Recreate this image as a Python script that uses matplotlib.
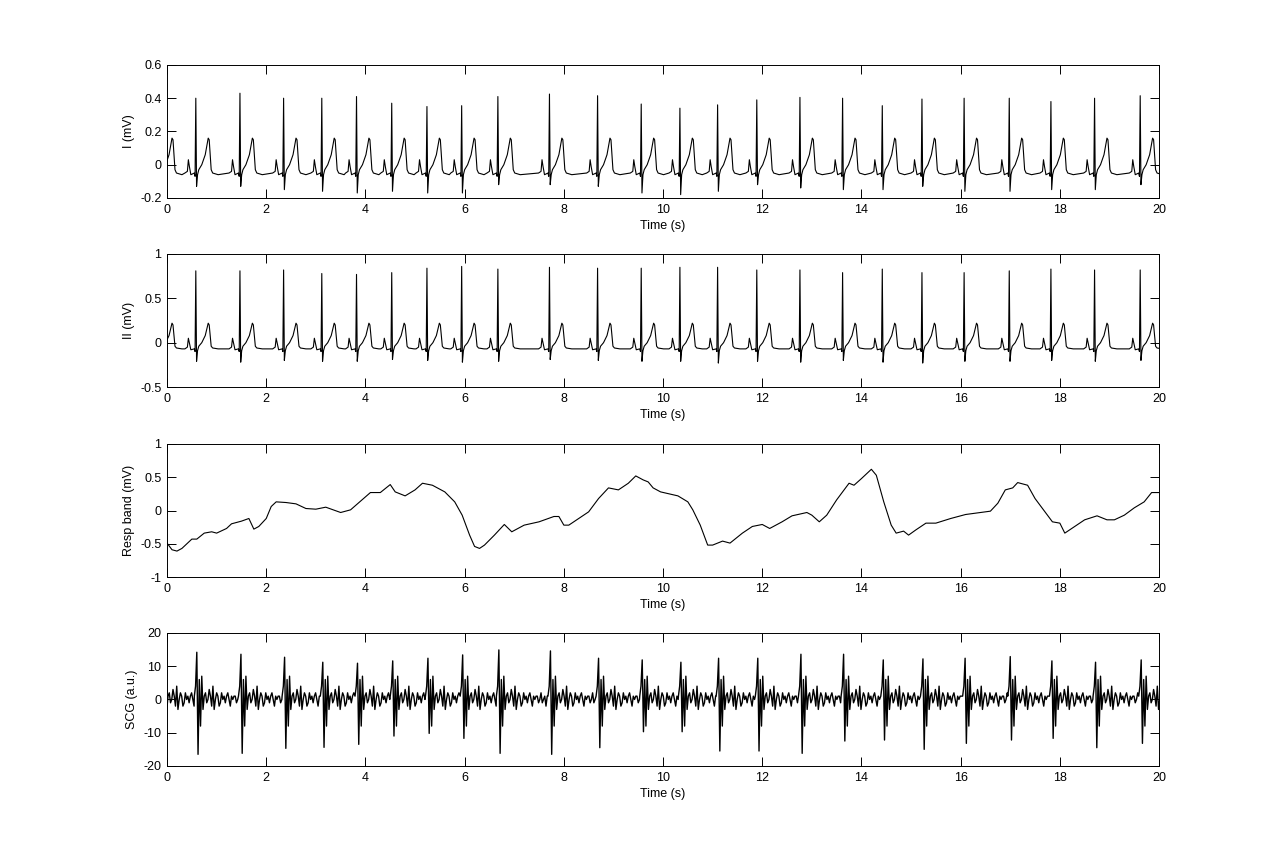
import numpy as np
import matplotlib
matplotlib.use("Agg")
import matplotlib.pyplot as plt

# R-peak times (s); first one is the beat just before t=0
beat_times = [-0.15, 0.58, 1.47, 2.35, 3.12, 3.82, 4.53, 5.24, 5.94, 6.67, 7.71, 8.68,
              9.56, 10.34, 11.10, 11.89, 12.76, 13.62, 14.42, 15.22, 16.07, 16.98,
              17.82, 18.70, 19.62]

# lead I peak values (mV)
r_lead1 = [0.40, 0.40, 0.43, 0.40, 0.40, 0.41, 0.37, 0.35, 0.355, 0.41, 0.425, 0.415,
           0.365, 0.34, 0.36, 0.39, 0.405, 0.40, 0.355, 0.395, 0.40, 0.40, 0.38, 0.40, 0.415]
s_lead1 = [-0.12, -0.13, -0.13, -0.15, -0.16, -0.17, -0.16, -0.17, -0.17, -0.12, -0.12, -0.13,
           -0.17, -0.18, -0.16, -0.12, -0.14, -0.15, -0.15, -0.13, -0.16, -0.16, -0.15, -0.15, -0.12]

# lead II peak values (mV)
r_lead2 = [0.80, 0.81, 0.81, 0.82, 0.78, 0.77, 0.79, 0.84, 0.86, 0.83, 0.85, 0.84,
           0.84, 0.85, 0.85, 0.82, 0.82, 0.79, 0.83, 0.79, 0.79, 0.81, 0.83, 0.82, 0.82]
s_lead2 = [-0.20, -0.21, -0.22, -0.20, -0.21, -0.21, -0.19, -0.20, -0.22, -0.21, -0.19, -0.20,
           -0.21, -0.21, -0.23, -0.21, -0.22, -0.20, -0.22, -0.23, -0.21, -0.21, -0.20, -0.21, -0.20]

# one heartbeat of each lead: offsets from R (s) and values (mV); None = R / S slot
ecg_offsets = [-0.22, -0.17, -0.15, -0.13, -0.10, -0.03, -0.015, 0.0, 0.015, 0.035,
               0.06, 0.12, 0.19, 0.25, 0.27, 0.31, 0.34, 0.45]
lead1_shape = [-0.05, -0.04, 0.03, -0.01, -0.06, -0.05, -0.07, None, None, -0.06,
               -0.03, 0.0, 0.06, 0.16, 0.15, -0.03, -0.05, -0.06]
lead2_shape = [-0.07, -0.05, 0.05, 0.0, -0.08, -0.07, -0.10, None, None, -0.09,
               -0.04, 0.0, 0.08, 0.22, 0.20, -0.04, -0.06, -0.07]

# respiration band, read point by point
resp_t = [0.0, 0.1, 0.2, 0.3, 0.5, 0.6, 0.75, 0.9, 1.0, 1.2, 1.3, 1.5, 1.65, 1.75, 1.85,
          2.0, 2.1, 2.2, 2.4, 2.6, 2.8, 3.0, 3.2, 3.5, 3.7, 3.9, 4.1, 4.3, 4.5, 4.6,
          4.8, 5.0, 5.15, 5.35, 5.6, 5.8, 5.95, 6.1, 6.2, 6.3, 6.4, 6.6, 6.8, 6.95, 7.2,
          7.5, 7.8, 7.9, 8.0, 8.1, 8.3, 8.5, 8.7, 8.9, 9.1, 9.3, 9.45, 9.6, 9.7, 9.8,
          9.95, 10.3, 10.5, 10.6, 10.75, 10.9, 11.0, 11.2, 11.35, 11.6, 11.8, 12.0, 12.15,
          12.4, 12.6, 12.9, 13.0, 13.15, 13.3, 13.5, 13.6, 13.75, 13.85, 14.0, 14.2, 14.3,
          14.45, 14.6, 14.7, 14.85, 14.95, 15.1, 15.3, 15.5, 15.8, 16.1, 16.3, 16.6, 16.75,
          16.9, 17.05, 17.15, 17.35, 17.5, 17.65, 17.85, 18.0, 18.1, 18.3, 18.5, 18.75,
          18.95, 19.1, 19.3, 19.5, 19.7, 19.85, 20.0]
resp_v = [-0.49, -0.59, -0.61, -0.57, -0.43, -0.43, -0.34, -0.32, -0.34, -0.27, -0.20,
          -0.16, -0.12, -0.28, -0.24, -0.12, 0.06, 0.13, 0.12, 0.10, 0.03, 0.02, 0.05,
          -0.03, 0.01, 0.14, 0.27, 0.27, 0.39, 0.28, 0.22, 0.31, 0.41, 0.38, 0.28, 0.13,
          -0.07, -0.37, -0.54, -0.57, -0.52, -0.37, -0.21, -0.32, -0.22, -0.17, -0.09,
          -0.09, -0.22, -0.22, -0.12, -0.02, 0.18, 0.34, 0.31, 0.41, 0.52, 0.46, 0.43,
          0.34, 0.28, 0.22, 0.13, 0.01, -0.22, -0.52, -0.52, -0.46, -0.49, -0.34, -0.24,
          -0.21, -0.27, -0.17, -0.08, -0.03, -0.07, -0.17, -0.07, 0.16, 0.26, 0.41, 0.38,
          0.48, 0.62, 0.53, 0.13, -0.22, -0.34, -0.31, -0.37, -0.29, -0.19, -0.19, -0.12,
          -0.06, -0.04, -0.01, 0.11, 0.31, 0.34, 0.42, 0.38, 0.18, 0.03, -0.17, -0.19,
          -0.34, -0.24, -0.14, -0.08, -0.14, -0.14, -0.07, 0.04, 0.13, 0.27, 0.27]

# SCG main spike up / down per beat (a.u.)
scg_up = [12.0, 14.2, 13.6, 12.7, 11.2, 10.9, 11.6, 12.4, 13.4, 14.9, 14.6, 12.4,
          11.9, 11.2, 12.4, 12.4, 13.6, 13.6, 11.9, 12.2, 12.4, 12.9, 11.6, 11.2, 11.9]
scg_down = [-13.0, -16.5, -16.2, -14.7, -14.4, -13.5, -11.0, -10.2, -11.7, -16.2, -16.5,
            -14.5, -9.7, -9.7, -15.5, -15.5, -16.2, -12.5, -12.2, -15.0, -13.2, -12.2,
            -11.7, -14.5, -13.2]
# SCG beat waveform, 0.025 s per sample from -0.05 s; None = up / down slot
scg_shape = [1, 4, None, None, 6, -8, 7, -3, 1, 2, -1, 0, 3, 1, -2, 4, -3, 0, 2, 1,
             -2, -1, 2, 0, 1, -1, 1, 2, 0, -2, 1, 0, 1, 1, -1, 0, 2, -1, 0, 1,
             -2, 1, 0]
scg_step = 0.025


def build_ecg(shape, r_vals, s_vals):
    xs, ys = [], []
    for k, bt in enumerate(beat_times):
        for off, v in zip(ecg_offsets, shape):
            if v is None:
                v = r_vals[k] if off == 0.0 else s_vals[k]
            xs.append(bt + off)
            ys.append(v)
    return np.array(xs), np.array(ys)


def build_scg():
    xs, ys = [], []
    for k, bt in enumerate(beat_times):
        t0 = bt + 0.02
        nxt = beat_times[k + 1] + 0.02 if k + 1 < len(beat_times) else 21.0
        for i, v in enumerate(scg_shape):
            t = t0 - 2 * scg_step + scg_step * i
            if t >= nxt - 2 * scg_step:
                break
            if v is None:
                v = scg_up[k] if i == 2 else scg_down[k]
            xs.append(t)
            ys.append(v)
    return np.array(xs), np.array(ys)


plt.rcParams['font.family'] = ['Liberation Sans', 'DejaVu Sans']
plt.rcParams['font.size'] = 9

fig = plt.figure(figsize=(12.81, 8.66), dpi=100)
bottoms = [0.7714, 0.5531, 0.3337, 0.1155]
axes = [fig.add_axes([0.1304, b, 0.7744, 0.1536]) for b in bottoms]

x1, y1 = build_ecg(lead1_shape, r_lead1, s_lead1)
x2, y2 = build_ecg(lead2_shape, r_lead2, s_lead2)
x4, y4 = build_scg()

axes[0].plot(x1, y1, color='k', lw=0.8)
axes[1].plot(x2, y2, color='k', lw=0.8)
axes[2].plot(resp_t, resp_v, color='k', lw=0.8)
axes[3].plot(x4, y4, color='k', lw=1.0)

ylims = [(-0.2, 0.6), (-0.5, 1), (-1, 1), (-20, 20)]
yticks = [[-0.2, 0, 0.2, 0.4, 0.6], [-0.5, 0, 0.5, 1], [-1, -0.5, 0, 0.5, 1],
          [-20, -10, 0, 10, 20]]
ylabels = ['I (mV)', 'II (mV)', 'Resp band (mV)', 'SCG (a.u.)']

for ax, yl, yt, lab in zip(axes, ylims, yticks, ylabels):
    ax.set_xlim(0, 20)
    ax.set_ylim(*yl)
    ax.set_xticks(range(0, 21, 2))
    ax.set_yticks(yt)
    ax.set_yticklabels([('%g' % v) for v in yt])
    ax.tick_params(direction='in', top=True, right=True, length=6.5, width=0.7, pad=4)
    for sp in ax.spines.values():
        sp.set_linewidth(0.7)
    ax.set_xlabel('Time (s)', labelpad=3)
    ax.set_ylabel(lab, labelpad=4)

fig.savefig('out.png', dpi=100)
